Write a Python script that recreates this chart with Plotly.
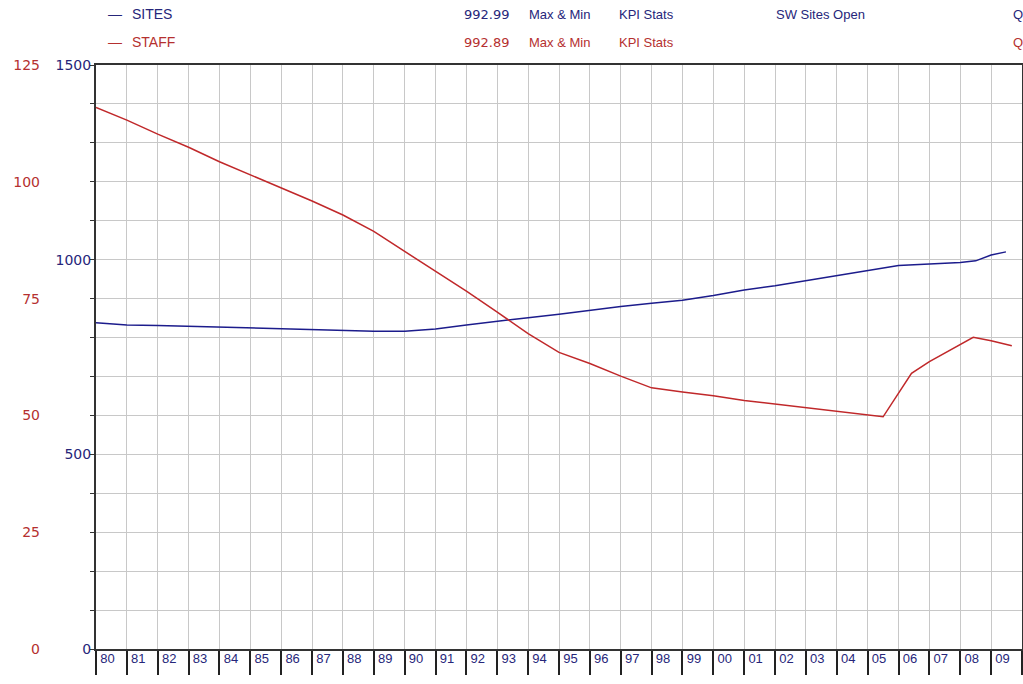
import plotly.graph_objects as go

# ---- data ----
year_labels = ["80","81","82","83","84","85","86","87","88","89","90","91","92","93","94",
               "95","96","97","98","99","00","01","02","03","04","05","06","07","08","09"]

sites_x = [1980,1981,1982,1983,1984,1985,1986,1987,1988,1989,1990,1991,1992,1993,1994,
           1995,1996,1997,1998,1999,2000,2001,2002,2003,2004,2005,2006,2007,2008,2008.5,
           2009,2009.48]
sites_y = [838,832,831,829,826,824,823,820,819,816,816,822,832,842,851,
           860,870,880,888,896,908,922,933,946,959,972,985,989,993,997,
           1012,1020]

staff_x = [1980,1981,1982,1983,1984,1985,1986,1987,1988,1989,1990,1991,1992,1993,1994,
           1995,1996,1997,1998,1999,2000,2001,2002,2003,2004,2005,2005.5,2006.42,2007,
           2008.42,2009,2009.67]
staff_y = [115.9,113.2,110.2,107.4,104.3,101.5,98.6,95.9,92.9,89.4,85.1,80.8,76.6,72.1,67.5,
           63.5,61.1,58.4,55.9,55.0,54.2,53.2,52.4,51.6,50.8,50.1,49.7,59.0,61.5,
           66.7,66.0,64.9]

sites_grid = list(range(0, 1501, 100))
sites_ticks = [0, 500, 1000, 1500]
staff_ticks = [0, 25, 50, 75, 100, 125]

BLUE_LINE = "#1c1c8c"
RED_LINE = "#c0282a"
BLUE_TXT = "#26267a"
RED_TXT = "#b5302f"
FONT = "Liberation Sans, Arial, sans-serif"
NUMFONT = "DejaVu Sans, sans-serif"

W, H = 1023, 684
ML, MR, MT, MB = 0, 1, 65, 35
PW = W - ML - MR
PH = H - MT - MB
X0 = 96  # left edge of plot frame in px

fig = go.Figure()
fig.add_trace(go.Scatter(x=sites_x, y=sites_y, mode="lines", name="SITES",
                         line=dict(color=BLUE_LINE, width=1.5), yaxis="y", xaxis="x"))
fig.add_trace(go.Scatter(x=staff_x, y=staff_y, mode="lines", name="STAFF",
                         line=dict(color=RED_LINE, width=1.5), yaxis="y2", xaxis="x"))
# invisible trace to activate the label axis
fig.add_trace(go.Scatter(x=[1980], y=[0], mode="markers", marker=dict(opacity=0),
                         xaxis="x2", yaxis="y", hoverinfo="skip", showlegend=False))

dom0 = X0 / PW
yr_ticks = list(range(1980, 2011))

fig.update_layout(
    width=W, height=H,
    margin=dict(l=ML, r=MR, t=MT, b=MB),
    paper_bgcolor="white", plot_bgcolor="white",
    showlegend=False,
    font=dict(family=FONT, size=13, color=BLUE_TXT),
    xaxis=dict(domain=[dom0, 1], range=[1980, 2010], tickvals=yr_ticks,
               showticklabels=False, showgrid=True, gridcolor="#c8c8c8", gridwidth=1,
               ticks="outside", ticklen=24, tickcolor="#222", tickwidth=1.5,
               showline=True, linecolor="#333", linewidth=2, mirror=True, zeroline=False),
    xaxis2=dict(overlaying="x", anchor="y", side="bottom", range=[1980, 2010],
                tickvals=[1980 + i + 0.37 for i in range(30)], ticktext=year_labels,
                ticks="", showgrid=False, showline=False, zeroline=False,
                tickfont=dict(family=FONT, size=13, color=BLUE_TXT)),
    yaxis=dict(range=[0, 1500], tickvals=sites_ticks,
               showgrid=True, gridcolor="#c8c8c8", gridwidth=1,
               ticks="",
               minor=dict(tickmode="array", tickvals=sites_grid, ticks="outside",
                          ticklen=4, tickcolor="#333", showgrid=True,
                          gridcolor="#c8c8c8", gridwidth=1),
               showline=True, linecolor="#333", linewidth=2, mirror=True, zeroline=False,
               tickfont=dict(family=NUMFONT, size=14, color=BLUE_TXT)),
    yaxis2=dict(range=[0, 125], tickvals=staff_ticks, overlaying="y", anchor="free",
                position=40 / PW, side="left", showgrid=False, showline=False,
                zeroline=False, ticks="",
                tickfont=dict(family=NUMFONT, size=14, color=RED_TXT)),
)

def px_x(x):
    return (x - ML) / PW

def px_y(y):
    return (H - MB - y) / PH

def label(text, x, y, color, anchor="left", family=FONT, size=13):
    fig.add_annotation(text=text, x=px_x(x), y=px_y(y), xref="paper", yref="paper",
                       xanchor=anchor, yanchor="middle", showarrow=False,
                       font=dict(family=family, size=size, color=color))

rows = [(14, BLUE_TXT, "SITES", "992.99", "SW Sites Open"),
        (42, RED_TXT, "STAFF", "992.89", "")]
for y, c, name, val, title in rows:
    label("—", 106, y, c, size=14)
    label(name, 130, y, c, size=14)
    label(val, 512, y, c, anchor="right", family=NUMFONT, size=13)
    label("Max &amp; Min", 527, y, c)
    label("KPI Stats", 617, y, c)
    if title:
        label(title, 774, y, c)
    label("Q", 1011, y, c)

# the page's default 8px body margin would push the figure off the window
fig.write_html("out.html",
               config={"displayModeBar": False},
               post_script="document.body.style.margin='0';document.body.style.overflow='hidden';")
